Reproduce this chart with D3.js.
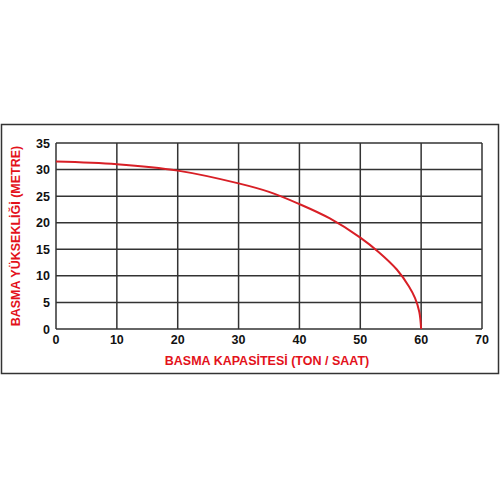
<!DOCTYPE html>
<html>
<head>
<meta charset="utf-8">
<script src="https://cdn.jsdelivr.net/npm/d3@7"></script>
<style>
  body { margin: 0; background: #fff; }
  text { font-family: "Liberation Sans", Arial, sans-serif; font-weight: bold; }
</style>
</head>
<body>
<div id="chart"></div>
<script>
var width = 500, height = 500;

// pump curve
var capacity = [0, 10, 20, 30, 35, 40, 45, 50, 53, 56, 58, 59, 59.7, 60];
var head     = [31.5, 31.0, 29.8, 27.4, 25.8, 23.5, 20.8, 17.2, 14.5, 11.2, 8.0, 5.8, 3.2, 0];
var xTicks = [0, 10, 20, 30, 40, 50, 60, 70];
var yTicks = [0, 5, 10, 15, 20, 25, 30, 35];

var margin = {left: 56, right: 18, top: 143, bottom: 171};

var svg = d3.select("#chart").append("svg")
    .attr("width", width)
    .attr("height", height);

// outer frame
svg.append("rect")
    .attr("x", 1.5).attr("y", 124.5)
    .attr("width", 497).attr("height", 249)
    .attr("fill", "none")
    .attr("stroke", "#333")
    .attr("stroke-width", 1.5);

var x = d3.scaleLinear().domain([0, 70]).range([margin.left, width - margin.right]);
var y = d3.scaleLinear().domain([0, 35]).range([height - margin.bottom, margin.top]);

// grid
svg.append("g").selectAll("line")
    .data(xTicks)
    .join("line")
    .attr("x1", d => x(d)).attr("x2", d => x(d))
    .attr("y1", y(0)).attr("y2", y(35))
    .attr("stroke", "#333").attr("stroke-width", 1.5);

svg.append("g").selectAll("line")
    .data(yTicks)
    .join("line")
    .attr("x1", x(0)).attr("x2", x(70))
    .attr("y1", d => y(d)).attr("y2", d => y(d))
    .attr("stroke", "#333").attr("stroke-width", 1.5);

// tick labels
svg.append("g").selectAll("text")
    .data(xTicks)
    .join("text")
    .attr("x", d => x(d))
    .attr("y", y(0) + 15)
    .attr("text-anchor", "middle")
    .attr("font-size", 12.5)
    .attr("fill", "#111")
    .text(d => d);

svg.append("g").selectAll("text")
    .data(yTicks)
    .join("text")
    .attr("x", x(0) - 6)
    .attr("y", d => y(d) + 4.5)
    .attr("text-anchor", "end")
    .attr("font-size", 12.5)
    .attr("fill", "#111")
    .text(d => d);

// curve
var pts = capacity.map((c, i) => [c, head[i]]);
var line = d3.line()
    .x(d => x(d[0]))
    .y(d => y(d[1]))
    .curve(d3.curveCatmullRom.alpha(0.5));

svg.append("path")
    .datum(pts)
    .attr("d", line)
    .attr("fill", "none")
    .attr("stroke", "#d81f26")
    .attr("stroke-width", 2);

// axis titles
svg.append("text")
    .attr("x", 267)
    .attr("y", 365)
    .attr("text-anchor", "middle")
    .attr("font-size", 12.5)
    .attr("fill", "#e3121b")
    .text("BASMA KAPASİTESİ (TON / SAAT)");

svg.append("text")
    .attr("transform", "translate(20,236) rotate(-90)")
    .attr("text-anchor", "middle")
    .attr("font-size", 12.5)
    .attr("fill", "#e3121b")
    .text("BASMA YÜKSEKLİĞİ (METRE)");
</script>
</body>
</html>
